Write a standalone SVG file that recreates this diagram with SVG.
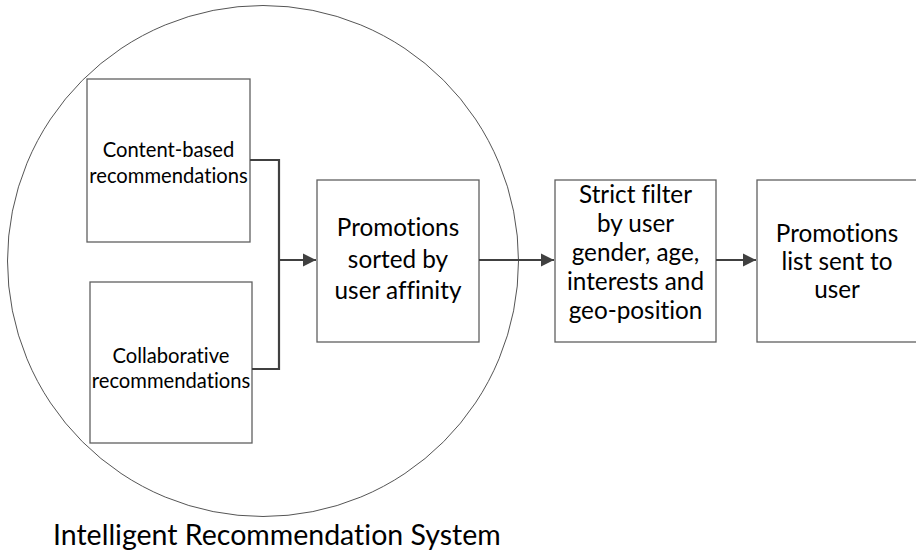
<svg xmlns="http://www.w3.org/2000/svg" width="916" height="556" viewBox="0 0 916 556">
  <style>
    text { font-family: Lato, "Open Sans", "Liberation Sans", sans-serif; fill: #000; font-variant-ligatures: none; }
    .box { fill: #ffffff; stroke: #606060; stroke-width: 1.3; }
    .ring { fill: none; stroke: #555555; stroke-width: 1; }
    .wire { fill: none; stroke: #404040; stroke-width: 2.2; }
    .sm { font-size: 20.2px; text-anchor: middle; }
    .lg { font-size: 24.3px; text-anchor: middle; }
    .title { font-size: 28.5px; }
  </style>
  <defs>
    <marker id="arrow" viewBox="0 0 10 10" refX="10" refY="5" markerWidth="6" markerHeight="6" markerUnits="strokeWidth" orient="auto">
      <path d="M0,0 L10,5 L0,10 z" fill="#404040"/>
    </marker>
  </defs>

  <rect width="916" height="556" fill="#ffffff"/>

  <!-- system boundary -->
  <g id="system">
    <circle class="ring" cx="263" cy="261" r="255.5"/>
    <text class="title" x="53" y="545">Intelligent Recommendation System</text>
  </g>

  <g id="content-based">
    <rect class="box" x="87" y="79" width="163" height="163"/>
    <text class="sm" x="168.5" y="157">Content-based</text>
    <text class="sm" x="168.5" y="183">recommendations</text>
  </g>

  <g id="collaborative">
    <rect class="box" x="90" y="282" width="162" height="161"/>
    <text class="sm" x="171" y="363">Collaborative</text>
    <text class="sm" x="171" y="388">recommendations</text>
  </g>

  <g id="sorted">
    <rect class="box" x="317" y="180" width="162" height="162"/>
    <text class="lg" x="398" y="236">Promotions</text>
    <text class="lg" x="398" y="268">sorted by</text>
    <text class="lg" x="398" y="299">user affinity</text>
  </g>

  <g id="filter">
    <rect class="box" x="555" y="180" width="161" height="162"/>
    <text class="lg" x="635.5" y="203">Strict filter</text>
    <text class="lg" x="635.5" y="232">by user</text>
    <text class="lg" x="635.5" y="261">gender, age,</text>
    <text class="lg" x="635.5" y="290">interests and</text>
    <text class="lg" x="635.5" y="319">geo-position</text>
  </g>

  <g id="sent">
    <rect class="box" x="757" y="180" width="170" height="162"/>
    <text class="lg" x="837" y="242">Promotions</text>
    <text class="lg" x="837" y="270">list sent to</text>
    <text class="lg" x="837" y="298">user</text>
  </g>

  <g id="connectors">
    <polyline class="wire" points="250,160 279,160 279,369 252,369"/>
    <line class="wire" x1="279" y1="260" x2="316" y2="260" marker-end="url(#arrow)"/>
    <line class="wire" x1="479" y1="260" x2="554" y2="260" marker-end="url(#arrow)"/>
    <line class="wire" x1="716" y1="260" x2="756" y2="260" marker-end="url(#arrow)"/>
  </g>
</svg>
